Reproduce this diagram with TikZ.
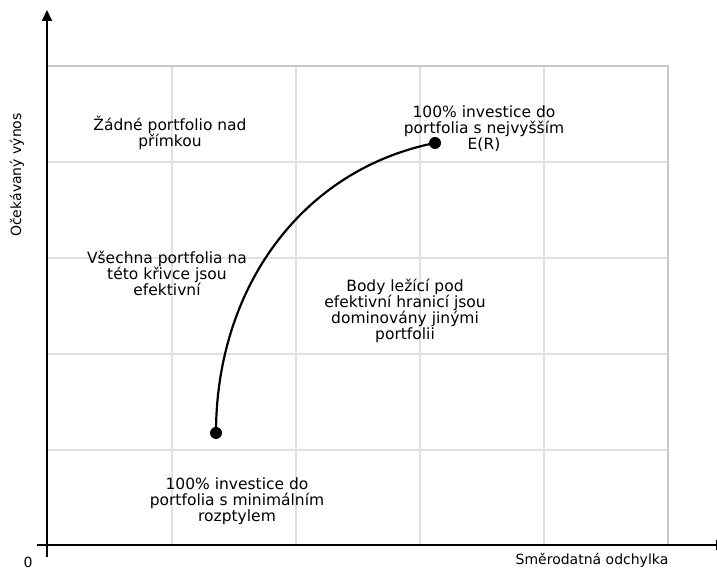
\documentclass[tikz,border=0pt]{standalone}
\usepackage{fontspec}
\setmainfont{DejaVu Sans}
\usepackage{tikz}
\usetikzlibrary{arrows.meta,positioning}

\definecolor{gridgray}{RGB}{224,224,224}
\definecolor{boxgray}{RGB}{200,200,200}

\tikzset{
  label text/.style={align=center,font=\fontsize{15.5}{16}\selectfont,inner sep=0pt},
  axis text/.style={font=\fontsize{14}{16}\selectfont,inner sep=0pt},
  dot/.style={circle,fill=black,inner sep=0pt,minimum size=12pt}
}

\begin{document}
\begin{tikzpicture}[x=1pt,y=1pt,>={Triangle[length=11pt,width=10pt]}]
      \useasboundingbox (0,0) rectangle (717,569);
      % grid
      \foreach \x in {172,296,420,544}
        \draw[gridgray,line width=1.6pt] (\x,24) -- (\x,503);
      \foreach \y in {119,215,311,407}
        \draw[gridgray,line width=1.6pt] (47,\y) -- (668,\y);
      \draw[boxgray,line width=2pt] (47,503) -- (668,503) -- (668,24);
      % axes
      \draw[->,line width=2pt] (47,12) -- (47,559);
      \draw[->,line width=2pt] (37,24) -- (727,24);
      \node[axis text] (zero) at (28,7) {0};
      \node[axis text] (xlab) at (592,9) {Směrodatná odchylka};
      \node[axis text,rotate=90] (ylab) at (17,394) {Očekávaný výnos};
      % efficient frontier
      \node[dot] (minvar) at (216,136) {};
      \node[dot] (maxret) at (435,426) {};
      \draw[line width=2.2pt] (minvar.center) .. controls (216,279) and (300,399) .. (maxret.center);
      % texts
      \node[label text] (above) at (170,436) {Žádné portfolio nad\\přímkou};
      \node[label text] (curve) at (167,296) {Všechna portfolia na\\této křivce jsou\\efektivní};
      \node[label text] (maxlab) at (484,440) {100\% investice do\\portfolia s nejvyšším\\E(R)};
      \node[label text] (below) at (405,258) {Body ležící pod\\efektivní hranicí jsou\\dominovány jinými\\portfolii};
      \node[label text] (minlab) at (237,68) {100\% investice do\\portfolia s minimálním\\rozptylem};
    \end{tikzpicture}
\end{document}
